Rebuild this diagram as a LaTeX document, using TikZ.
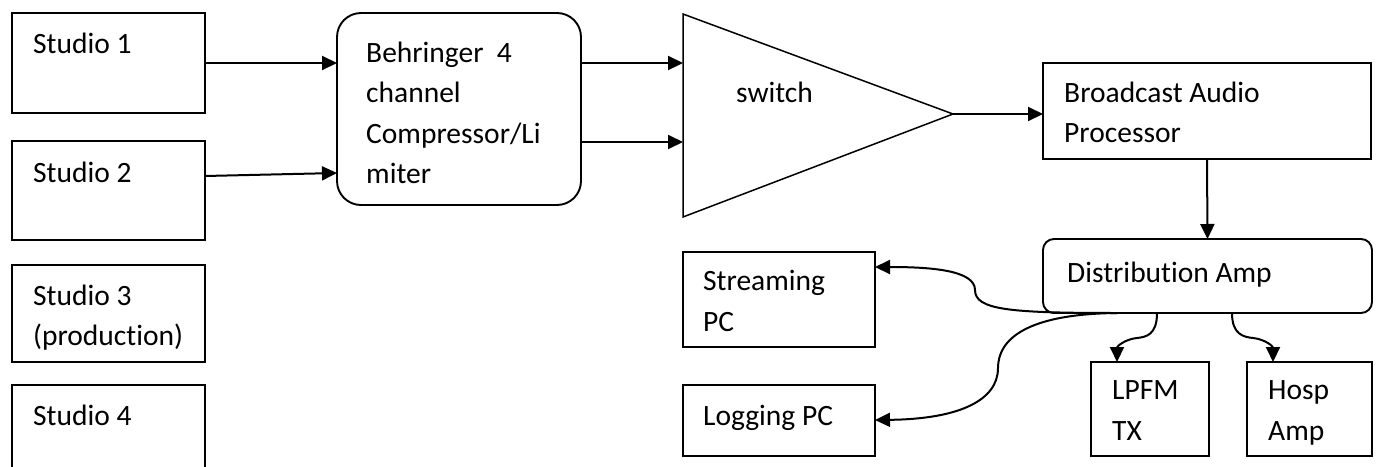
\documentclass[tikz,border=0pt]{standalone}
\usepackage{fontspec}
\setmainfont{Carlito}[RawFeature={-liga;-clig;-calt}]
\usetikzlibrary{arrows.meta,calc}
\begin{document}
\begin{tikzpicture}[x=1pt,y=-1pt]
\tikzset{
  box/.style={draw, line width=1.9pt, anchor=north west, inner sep=0pt, outer sep=0pt},
  rbox/.style={box, rounded corners=#1},
  % multi-line labels are placed by the baseline of their last line
  txt/.style={anchor=base west, inner sep=0pt, align=left,
              font=\fontsize{29.5}{40.5}\selectfont},
  wire/.style={line width=2pt, -{Triangle[length=15pt,width=14pt]}},
}
\clip (0,0) rectangle (1379,466);
\fill[white] (0,0) rectangle (1379,466);

% studios
\node[box, minimum width=193pt, minimum height=100pt] (s1) at (12,13) {};
\node[box, minimum width=193pt, minimum height=99pt]  (s2) at (12,141) {};
\node[box, minimum width=193pt, minimum height=97pt]  (s3) at (12,265) {};
\node[box, minimum width=193pt, minimum height=90pt]  (s4) at (12,385) {};
\node[txt] (s1t) at (33,53)    {Studio 1};
\node[txt] (s2t) at (33,182)   {Studio 2};
\node[txt] (s3t) at (33,345.5) {Studio 3\\(production)};
\node[txt] (s4t) at (33,425)   {Studio 4};

% compressor / limiter
\node[rbox=24pt, minimum width=244pt, minimum height=192pt] (beh) at (337,13) {};
\node[txt] (beht) at (366,183.5) {Behringer~~4\\channel\\Compressor/Li\\miter};

% switch
\coordinate (swtop) at (683,14);
\coordinate (swtip) at (953,114);
\coordinate (swbot) at (683,217);
\coordinate (swin1) at (683,63);
\coordinate (swin2) at (683,142);
\draw[line width=1.5pt, line join=miter] (swtop) -- (swtip) -- (swbot) -- cycle;
\node[txt] (swt) at (736,102) {switch};

% processing chain
\node[box, minimum width=328pt, minimum height=96pt] (bap) at (1043,63) {};
\node[txt] (bapt) at (1064,142.5) {Broadcast Audio\\Processor};
\node[rbox=11pt, minimum width=329pt, minimum height=74pt] (dist) at (1043,239) {};
\node[txt] (distt) at (1067,282) {Distribution Amp};

% destinations
\node[box, minimum width=192pt, minimum height=95pt] (stream) at (683,252) {};
\node[txt] (streamt) at (703,331) {Streaming\\PC};
\node[box, minimum width=192pt, minimum height=71pt] (log) at (683,385) {};
\node[txt] (logt) at (703,425) {Logging PC};
\node[box, minimum width=118pt, minimum height=94pt] (lpfm) at (1091,362) {};
\node[txt] (lpfmt) at (1112,440) {LPFM\\TX};
\node[box, minimum width=125pt, minimum height=94pt] (hosp) at (1247,362) {};
\node[txt] (hospt) at (1268,440) {Hosp\\Amp};

% straight connectors
\draw[wire] (s1.east |- 0,63) -- (beh.west |- 0,63);
\draw[wire] (s2.east |- 0,176) -- (beh.west |- 0,173);
\draw[wire] (beh.east |- swin1) -- (swin1);
\draw[wire] (beh.east |- swin2) -- (swin2);
\draw[wire] (swtip) -- (bap.west |- swtip);
\draw[wire] (bap.south) -- (dist.north);

% curved connectors out of the distribution amp
\coordinate (dA) at ($(dist.south west)+(74,0)$);
\coordinate (dB) at ($(dist.south west)+(114,0)$);
\coordinate (dC) at ($(dist.south west)+(189,0)$);
\draw[wire] (dA) .. controls (1010,313) and (975,310) .. (975,290)
            .. controls (975,270) and (930,267) .. (stream.east |- 0,267);
\draw[wire] (dA) .. controls (1025,314) and (998,340) .. (998,368)
            .. controls (998,400) and (960,419) .. (log.east |- 0,420);
\draw[wire] (dB) .. controls (1157,335) and (1146,337) .. (1137,338)
            .. controls (1126,339) and (1117,346) .. (lpfm.north west -| 1117,0);
\draw[wire] (dC) .. controls (1232,335) and (1244,337) .. (1253,338)
            .. controls (1264,339) and (1273,346) .. (hosp.north west -| 1273,0);
\end{tikzpicture}
\end{document}
